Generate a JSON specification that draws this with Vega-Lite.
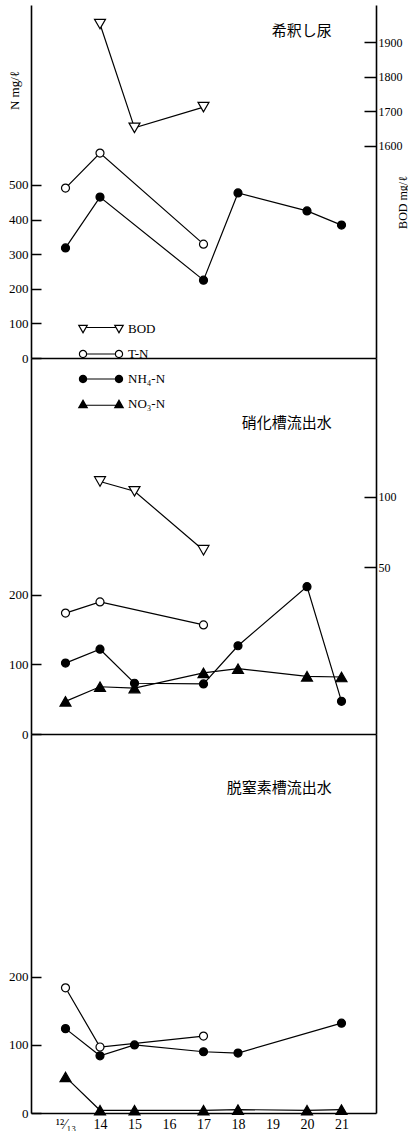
{
  "$schema": "https://vega.github.io/schema/vega-lite/v6.json",
  "background": "white",
  "padding": {"left": 8, "top": 5, "right": 0, "bottom": 0},
  "spacing": 0,
  "bounds": "flush",
  "datasets": {
    "d": [
      {"panel": "A", "series": "BOD", "day": 14, "value": 1952},
      {"panel": "A", "series": "BOD", "day": 15, "value": 1652},
      {"panel": "A", "series": "BOD", "day": 17, "value": 1712},
      {"panel": "A", "series": "T-N", "day": 13, "value": 491},
      {"panel": "A", "series": "T-N", "day": 14, "value": 592},
      {"panel": "A", "series": "T-N", "day": 17, "value": 329},
      {"panel": "A", "series": "NH₄-N", "day": 13, "value": 318},
      {"panel": "A", "series": "NH₄-N", "day": 14, "value": 465},
      {"panel": "A", "series": "NH₄-N", "day": 17, "value": 225},
      {"panel": "A", "series": "NH₄-N", "day": 18, "value": 477},
      {"panel": "A", "series": "NH₄-N", "day": 20, "value": 425},
      {"panel": "A", "series": "NH₄-N", "day": 21, "value": 384},
      {"panel": "B", "series": "BOD", "day": 14, "value": 111},
      {"panel": "B", "series": "BOD", "day": 15, "value": 104},
      {"panel": "B", "series": "BOD", "day": 17, "value": 62},
      {"panel": "B", "series": "T-N", "day": 13, "value": 174},
      {"panel": "B", "series": "T-N", "day": 14, "value": 190},
      {"panel": "B", "series": "T-N", "day": 17, "value": 157},
      {"panel": "B", "series": "NH₄-N", "day": 13, "value": 102},
      {"panel": "B", "series": "NH₄-N", "day": 14, "value": 122},
      {"panel": "B", "series": "NH₄-N", "day": 15, "value": 73},
      {"panel": "B", "series": "NH₄-N", "day": 17, "value": 72},
      {"panel": "B", "series": "NH₄-N", "day": 18, "value": 127},
      {"panel": "B", "series": "NH₄-N", "day": 20, "value": 212},
      {"panel": "B", "series": "NH₄-N", "day": 21, "value": 47},
      {"panel": "B", "series": "NO₃-N", "day": 13, "value": 47},
      {"panel": "B", "series": "NO₃-N", "day": 14, "value": 68},
      {"panel": "B", "series": "NO₃-N", "day": 15, "value": 66},
      {"panel": "B", "series": "NO₃-N", "day": 17, "value": 88},
      {"panel": "B", "series": "NO₃-N", "day": 18, "value": 94},
      {"panel": "B", "series": "NO₃-N", "day": 20, "value": 83},
      {"panel": "B", "series": "NO₃-N", "day": 21, "value": 82},
      {"panel": "C", "series": "T-N", "day": 13, "value": 184},
      {"panel": "C", "series": "T-N", "day": 14, "value": 97},
      {"panel": "C", "series": "T-N", "day": 17, "value": 113},
      {"panel": "C", "series": "NH₄-N", "day": 13, "value": 124},
      {"panel": "C", "series": "NH₄-N", "day": 14, "value": 84},
      {"panel": "C", "series": "NH₄-N", "day": 15, "value": 100},
      {"panel": "C", "series": "NH₄-N", "day": 17, "value": 90},
      {"panel": "C", "series": "NH₄-N", "day": 18, "value": 88},
      {"panel": "C", "series": "NH₄-N", "day": 21, "value": 132},
      {"panel": "C", "series": "NO₃-N", "day": 13, "value": 53},
      {"panel": "C", "series": "NO₃-N", "day": 14, "value": 4},
      {"panel": "C", "series": "NO₃-N", "day": 15, "value": 4},
      {"panel": "C", "series": "NO₃-N", "day": 17, "value": 4},
      {"panel": "C", "series": "NO₃-N", "day": 18, "value": 5},
      {"panel": "C", "series": "NO₃-N", "day": 20, "value": 4},
      {"panel": "C", "series": "NO₃-N", "day": 21, "value": 5}
    ]
  },
  "resolve": {"scale": {"shape": "independent"}, "legend": {"shape": "independent"}},
  "vconcat": [
    {
      "width": 345,
      "height": 353,
      "layer": [
        {
          "layer": [
            {
              "data": {"name": "d"},
              "transform": [{"filter": "datum.panel === 'A' && datum.series !== 'BOD'"}],
              "mark": {"type": "line", "color": "black", "strokeWidth": 1.2},
              "encoding": {
                "x": {"field": "day", "type": "quantitative", "scale": {"domain": [12, 22], "nice": false, "zero": false},
                  "axis": {"labels": false, "ticks": false, "title": null, "domain": true, "domainWidth": 1.3, "grid": false}},
                "y": {"field": "value", "type": "quantitative", "scale": {"domain": [0, 1020], "nice": false, "zero": false},
                  "axis": {"orient": "left", "values": [0, 100, 200, 300, 400, 500], "tickSize": -10, "labelPadding": 13, "labelFontSize": 13,
                    "title": "N mg/ℓ", "titleFontSize": 13, "titleAngle": 270, "titleX": -10, "titleY": 85, "titleAlign": "center", "titleBaseline": "bottom"}},
                "detail": {"field": "series"}
              }
            },
            {
              "data": {"name": "d"},
              "transform": [{"filter": "datum.panel === 'A' && datum.series !== 'BOD'"}],
              "mark": {"type": "point", "shape": "circle", "filled": true, "stroke": "black", "strokeWidth": 1.2, "opacity": 1, "size": 64},
              "encoding": {
                "x": {"field": "day", "type": "quantitative"},
                "y": {"field": "value", "type": "quantitative"},
                "fill": {"condition": {"test": "datum.series === 'T-N'", "value": "white"}, "value": "black"}
              }
            },
            {
              "data": {"name": "d"},
              "transform": [{"filter": "datum.panel === 'Z'"}],
              "mark": {"type": "point", "filled": true, "color": "black", "opacity": 1, "size": 196},
              "encoding": {
                "x": {"field": "day", "type": "quantitative"},
                "y": {"field": "value", "type": "quantitative"},
                "shape": {"field": "series", "type": "nominal",
                  "scale": {"domain": ["BOD", "T-N", "NH₄-N", "NO₃-N"],
                    "range": [
                      "M-3.32,-0.6L-1.82,-0.6L-2.57,0.7ZM-3.02,-0.427L-2.57,0.353L-2.12,-0.427ZM1.82,-0.6L3.32,-0.6L2.57,0.7ZM2.12,-0.427L2.57,0.353L3.02,-0.427ZM-2.05,-0.27L2.05,-0.27L2.05,-0.13L-2.05,-0.13Z",
                      "M-3.17,0A0.6,0.6 0 1,1 -1.97,0A0.6,0.6 0 1,1 -3.17,0ZM-3,0A0.43,0.43 0 1,0 -2.14,0A0.43,0.43 0 1,0 -3,0ZM1.97,0A0.6,0.6 0 1,1 3.17,0A0.6,0.6 0 1,1 1.97,0ZM2.14,0A0.43,0.43 0 1,0 3,0A0.43,0.43 0 1,0 2.14,0ZM-1.99,-0.08L1.99,-0.08L1.99,0.08L-1.99,0.08Z",
                      "M-3.17,0A0.6,0.6 0 1,1 -1.97,0A0.6,0.6 0 1,1 -3.17,0ZM1.97,0A0.6,0.6 0 1,1 3.17,0A0.6,0.6 0 1,1 1.97,0ZM-1.99,-0.08L1.99,-0.08L1.99,0.08L-1.99,0.08Z",
                      "M-3.32,0.6L-2.57,-0.7L-1.82,0.6ZM1.82,0.6L2.57,-0.7L3.32,0.6ZM-2.1,0.1L2.1,0.1L2.1,0.24L-2.1,0.24Z"
                    ]},
                  "legend": {
                    "orient": "none", "legendX": 62, "legendY": 316, "title": null, "padding": 0,
                    "symbolSize": 196, "rowPadding": 9,
                    "labelFont": "Liberation Serif", "labelFontSize": 13, "labelColor": "black", "labelOffset": 19
                  }}
              }
            },
            {
              "data": {"values": [{"label": "希釈し尿"}]},
              "mark": {"type": "text", "font": "Noto Sans CJK JP", "fontSize": 15, "align": "right", "baseline": "middle", "color": "black"},
              "encoding": {
                "x": {"datum": 20.72, "type": "quantitative"},
                "y": {"datum": 945, "type": "quantitative"},
                "text": {"field": "label"}
              }
            }
          ]
        },
        {
          "layer": [
            {
              "data": {"name": "d"},
              "transform": [{"filter": "datum.panel === 'A' && datum.series === 'BOD'"}],
              "mark": {"type": "line", "color": "black", "strokeWidth": 1.2},
              "encoding": {
                "x": {"field": "day", "type": "quantitative"},
                "y": {"field": "value", "type": "quantitative", "scale": {"domain": [987, 2007], "nice": false, "zero": false},
                  "axis": {"orient": "right", "values": [1600, 1700, 1800, 1900], "format": "d", "tickSize": -12, "labelPadding": 14, "labelFontSize": 12,
                    "title": "BOD mg/ℓ", "titleFontSize": 12, "titleAngle": 270, "titleX": 33, "titleY": 197, "titleAlign": "center", "titleBaseline": "bottom"}}
              }
            },
            {
              "data": {"name": "d"},
              "transform": [{"filter": "datum.panel === 'A' && datum.series === 'BOD'"}],
              "mark": {"type": "point", "shape": "triangle-down", "filled": true, "fill": "white", "stroke": "black", "strokeWidth": 1.2, "opacity": 1, "size": 120},
              "encoding": {
                "x": {"field": "day", "type": "quantitative"},
                "y": {"field": "value", "type": "quantitative"}
              }
            }
          ]
        }
      ],
      "resolve": {"scale": {"y": "independent"}}
    },
    {
      "width": 345,
      "height": 376,
      "layer": [
        {
          "layer": [
            {
              "data": {"name": "d"},
              "transform": [{"filter": "datum.panel === 'B' && datum.series !== 'BOD'"}],
              "mark": {"type": "line", "color": "black", "strokeWidth": 1.2},
              "encoding": {
                "x": {"field": "day", "type": "quantitative", "scale": {"domain": [12, 22], "nice": false, "zero": false},
                  "axis": {"labels": false, "ticks": false, "title": null, "domain": true, "domainWidth": 1.5, "grid": false}},
                "y": {"field": "value", "type": "quantitative", "scale": {"domain": [0, 541], "nice": false, "zero": false},
                  "axis": {"orient": "left", "values": [0, 100, 200], "tickSize": -10, "labelPadding": 13, "labelFontSize": 13, "title": null}},
                "detail": {"field": "series"}
              }
            },
            {
              "data": {"name": "d"},
              "transform": [{"filter": "datum.panel === 'B' && datum.series !== 'BOD'"}],
              "mark": {"type": "point", "filled": true, "stroke": "black", "strokeWidth": 1.2, "opacity": 1},
              "encoding": {
                "x": {"field": "day", "type": "quantitative"},
                "y": {"field": "value", "type": "quantitative"},
                "shape": {"field": "series", "type": "nominal",
                  "scale": {"domain": ["BOD", "T-N", "NH₄-N", "NO₃-N"], "range": ["triangle-down", "circle", "circle", "triangle-up"]},
                  "legend": null},
                "fill": {"condition": {"test": "datum.series === 'BOD' || datum.series === 'T-N'", "value": "white"}, "value": "black"},
                "size": {"condition": {"test": "datum.series === 'BOD' || datum.series === 'NO₃-N'", "value": 120}, "value": 64}
              }
            },
            {
              "data": {"values": [{"label": "硝化槽流出水"}]},
              "mark": {"type": "text", "font": "Noto Sans CJK JP", "fontSize": 15, "align": "right", "baseline": "middle", "color": "black"},
              "encoding": {
                "x": {"datum": 20.72, "type": "quantitative"},
                "y": {"datum": 447, "type": "quantitative"},
                "text": {"field": "label"}
              }
            }
          ]
        },
        {
          "layer": [
            {
              "data": {"name": "d"},
              "transform": [{"filter": "datum.panel === 'B' && datum.series === 'BOD'"}],
              "mark": {"type": "line", "color": "black", "strokeWidth": 1.2},
              "encoding": {
                "x": {"field": "day", "type": "quantitative"},
                "y": {"field": "value", "type": "quantitative", "scale": {"domain": [-69, 199], "nice": false, "zero": false},
                  "axis": {"orient": "right", "values": [50, 100], "format": "d", "tickSize": -12, "labelPadding": 14, "labelFontSize": 12, "title": null}}
              }
            },
            {
              "data": {"name": "d"},
              "transform": [{"filter": "datum.panel === 'B' && datum.series === 'BOD'"}],
              "mark": {"type": "point", "shape": "triangle-down", "filled": true, "fill": "white", "stroke": "black", "strokeWidth": 1.2, "opacity": 1, "size": 120},
              "encoding": {
                "x": {"field": "day", "type": "quantitative"},
                "y": {"field": "value", "type": "quantitative"}
              }
            }
          ]
        }
      ],
      "resolve": {"scale": {"y": "independent"}}
    },
    {
      "width": 345,
      "height": 379,
      "layer": [
        {
          "layer": [
            {
              "data": {"name": "d"},
              "transform": [{"filter": "datum.panel === 'C' && datum.series !== 'BOD'"}],
              "mark": {"type": "line", "color": "black", "strokeWidth": 1.2},
              "encoding": {
                "x": {"field": "day", "type": "quantitative", "scale": {"domain": [12, 22], "nice": false, "zero": false},
                  "axis": {"values": [13, 14, 15, 16, 17, 18, 19, 20, 21], "ticks": false, "labelPadding": 4, "labelFontSize": 14,
                    "labelExpr": "datum.value === 13 ? '¹²⁄₁₃' : datum.value", "labelFlush": false, "labelOverlap": false,
                    "title": null, "domain": true, "domainWidth": 1.5, "grid": false}},
                "y": {"field": "value", "type": "quantitative", "scale": {"domain": [0, 557], "nice": false, "zero": false},
                  "axis": {"orient": "left", "values": [0, 100, 200], "tickSize": -10, "labelPadding": 13, "labelFontSize": 13, "title": null}},
                "detail": {"field": "series"}
              }
            },
            {
              "data": {"name": "d"},
              "transform": [{"filter": "datum.panel === 'C' && datum.series !== 'BOD'"}],
              "mark": {"type": "point", "filled": true, "stroke": "black", "strokeWidth": 1.2, "opacity": 1},
              "encoding": {
                "x": {"field": "day", "type": "quantitative"},
                "y": {"field": "value", "type": "quantitative"},
                "shape": {"field": "series", "type": "nominal",
                  "scale": {"domain": ["BOD", "T-N", "NH₄-N", "NO₃-N"], "range": ["triangle-down", "circle", "circle", "triangle-up"]},
                  "legend": null},
                "fill": {"condition": {"test": "datum.series === 'BOD' || datum.series === 'T-N'", "value": "white"}, "value": "black"},
                "size": {"condition": {"test": "datum.series === 'BOD' || datum.series === 'NO₃-N'", "value": 120}, "value": 64}
              }
            },
            {
              "data": {"values": [{"label": "脱窒素槽流出水"}]},
              "mark": {"type": "text", "font": "Noto Sans CJK JP", "fontSize": 15, "align": "right", "baseline": "middle", "color": "black"},
              "encoding": {
                "x": {"datum": 20.72, "type": "quantitative"},
                "y": {"datum": 478, "type": "quantitative"},
                "text": {"field": "label"}
              }
            }
          ]
        },
        {
          "data": {"name": "d"},
          "transform": [{"filter": "datum.panel === 'C' && datum.series === 'BOD'"}],
          "mark": {"type": "line", "color": "black", "strokeWidth": 1.2},
          "encoding": {
            "x": {"field": "day", "type": "quantitative"},
            "y": {"field": "value", "type": "quantitative", "scale": {"domain": [0, 100], "nice": false, "zero": false},
              "axis": {"orient": "right", "values": [], "labels": false, "ticks": false, "title": null, "domain": true}}
          }
        }
      ],
      "resolve": {"scale": {"y": "independent"}}
    }
  ],
  "config": {
    "view": {"stroke": null},
    "font": "Liberation Serif",
    "axis": {
      "domainColor": "black", "domainWidth": 1.6, "tickColor": "black", "tickWidth": 1.5,
      "labelColor": "black", "titleColor": "black", "grid": false,
      "labelFont": "Liberation Serif", "titleFont": "Liberation Serif", "titleFontWeight": "normal"
    },
    "legend": {"labelFont": "Liberation Serif"}
  }
}
